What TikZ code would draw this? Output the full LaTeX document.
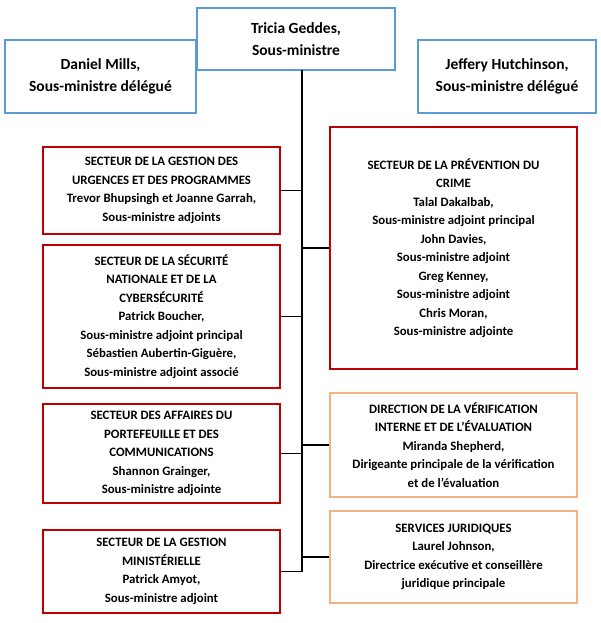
\documentclass[tikz,border=0pt]{standalone}
\usepackage{fontspec}
\setmainfont{Carlito}
\usetikzlibrary{positioning}
\definecolor{chefblue}{RGB}{91,155,213}
\definecolor{secred}{RGB}{192,0,0}
\definecolor{dirorange}{RGB}{244,177,131}
\begin{document}
\begin{tikzpicture}[
    x=1pt,y=-1pt,
    chef/.style={draw=chefblue,line width=1.5pt,fill=white,align=center,
      font=\fontsize{15.5}{22}\selectfont\bfseries,inner sep=0},
    sect/.style={draw=secred,line width=1.5pt,fill=white,align=center,
      font=\fontsize{12.8}{18.5}\selectfont\bfseries,inner sep=0,
      minimum width=237pt},
    dir/.style={sect,draw=dirorange},
    link/.style={black,line width=1.2pt}
    ]
    \useasboundingbox (0,0) rectangle (600,623);

    % sous-ministres
    \node [chef,minimum width=191pt,minimum height=73pt] (dm) at (100.5,76.5)
      {Daniel Mills,\\Sous-ministre délégué};
    \node [chef,minimum width=178pt,minimum height=73pt] (jh) at (507,76.5)
      {Jeffery Hutchinson,\\Sous-ministre délégué};
    \node [chef,minimum width=198pt,minimum height=62pt] (tg) at (296,39)
      {Tricia Geddes,\\Sous-ministre};

    % secteurs a gauche
    \node [sect,minimum height=87pt] (gu) at (161.5,190.5)
      {SECTEUR DE LA GESTION DES\\URGENCES ET DES PROGRAMMES\\
       Trevor Bhupsingh et Joanne Garrah,\\Sous-ministre adjoints};
    \node [sect,minimum height=143pt] (sn) at (161.5,316.5)
      {SECTEUR DE LA SÉCURITÉ\\NATIONALE ET DE LA\\CYBERSÉCURITÉ\\
       Patrick Boucher,\\Sous-ministre adjoint principal\\
       Sébastien Aubertin-Giguère,\\Sous-ministre adjoint associé};
    \node [sect,minimum height=99pt] (ap) at (161.5,453.5)
      {SECTEUR DES AFFAIRES DU\\PORTEFEUILLE ET DES\\COMMUNICATIONS\\
       Shannon Grainger,\\Sous-ministre adjointe};
    \node [sect,minimum height=83pt] (gm) at (161.5,571.5)
      {SECTEUR DE LA GESTION\\MINISTÉRIELLE\\
       Patrick Amyot,\\Sous-ministre adjoint};

    % secteurs a droite
    \node [sect,minimum width=247pt,minimum height=242pt] (pc) at (453.5,248)
      {SECTEUR DE LA PRÉVENTION DU\\CRIME\\Talal Dakalbab,\\
       Sous-ministre adjoint principal\\John Davies,\\Sous-ministre adjoint\\
       Greg Kenney,\\Sous-ministre adjoint\\Chris Moran,\\Sous-ministre adjointe};
    \node [dir,minimum width=247pt,minimum height=104pt] (ve) at (453.5,445)
      {DIRECTION DE LA VÉRIFICATION\\INTERNE ET DE L’ÉVALUATION\\
       Miranda Shepherd,\\Dirigeante principale de la vérification\\
       et de l’évaluation};
    \node [dir,minimum width=247pt,minimum height=92pt] (sj) at (453.5,557)
      {SERVICES JURIDIQUES\\Laurel Johnson,\\
       Directrice exécutive et conseillère\\juridique principale};

    % liens
    \coordinate (bas) at (302,571.5);
    \draw [link] (302,70) -- (bas);
    \foreach \s in {gu,sn,ap,gm} {
      \draw [link] (\s.east) -- (302,0 |- \s.east);
    }
    \foreach \s in {pc,ve,sj} {
      \draw [link] (\s.west) -- (302,0 |- \s.west);
    }
\end{tikzpicture}
\end{document}
